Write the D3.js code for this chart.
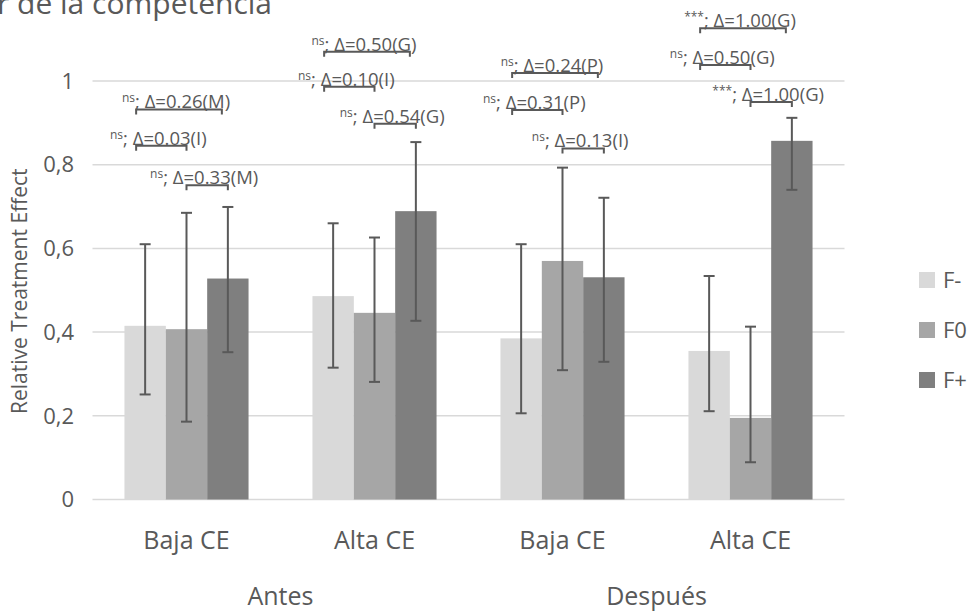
<!DOCTYPE html>
<html>
<head>
<meta charset="utf-8">
<script src="https://cdn.jsdelivr.net/npm/d3@7"></script>
<style>
  body { margin: 0; background: #fff; }
  svg { display: block; font-family: "Open Sans", sans-serif; }
</style>
</head>
<body>
<svg id="chart" width="972" height="616"></svg>
<script>
// categories and periods
var categories = ["Baja CE", "Alta CE", "Baja CE", "Alta CE"];
var periods = ["Antes", "Después"];
var series = ["F-", "F0", "F+"];
var colors = ["#d9d9d9", "#a6a6a6", "#7f7f7f"];

// relative treatment effect per series (one value per category)
var fMinus = [0.415, 0.486, 0.385, 0.355];
var fZero  = [0.407, 0.446, 0.570, 0.195];
var fPlus  = [0.528, 0.689, 0.531, 0.857];

// confidence interval limits
var fMinusLow  = [0.251, 0.315, 0.206, 0.211];
var fMinusHigh = [0.610, 0.660, 0.610, 0.534];
var fZeroLow   = [0.186, 0.281, 0.309, 0.089];
var fZeroHigh  = [0.685, 0.626, 0.793, 0.413];
var fPlusLow   = [0.352, 0.427, 0.329, 0.740];
var fPlusHigh  = [0.699, 0.854, 0.721, 0.912];

var yTicks = [0, 0.2, 0.4, 0.6, 0.8, 1];
var yTickLabels = ["0", "0,2", "0,4", "0,6", "0,8", "1"];

// comparison brackets: category, from series, to series, level, significance, label
var cmpCategory = [0, 0, 0, 1, 1, 1, 2, 2, 2, 3, 3, 3];
var cmpFrom     = [0, 0, 1, 0, 0, 1, 0, 0, 1, 0, 0, 1];
var cmpTo       = [2, 1, 2, 2, 1, 2, 2, 1, 2, 2, 1, 2];
var cmpLevel    = [0.932, 0.845, 0.751, 1.070, 0.986, 0.898, 1.019, 0.931, 0.839, 1.126, 1.038, 0.950];
var cmpSig      = ["ns", "ns", "ns", "ns", "ns", "ns", "ns", "ns", "ns", "***", "ns", "***"];
var cmpText     = ["; Δ=0.26(M)", "; Δ=0.03(I)", "; Δ=0.33(M)",
                   "; Δ=0.50(G)", "; Δ=0.10(I)", "; Δ=0.54(G)",
                   "; Δ=0.24(P)", "; Δ=0.31(P)", "; Δ=0.13(I)",
                   "; Δ=1.00(G)", "; Δ=0.50(G)", "; Δ=1.00(G)"];

var values = [fMinus, fZero, fPlus];
var lows = [fMinusLow, fZeroLow, fPlusLow];
var highs = [fMinusHigh, fZeroHigh, fPlusHigh];

var textColor = "#595959";
var plot = {left: 92.5, right: 844.5, top: 81, bottom: 499.5};

var svg = d3.select("#chart");

var x0 = d3.scaleBand()
    .domain(d3.range(categories.length))
    .range([plot.left, plot.right])
    .paddingInner(0.34)
    .paddingOuter(0.17);
var x1 = d3.scaleBand()
    .domain(d3.range(series.length))
    .range([0, x0.bandwidth()]);
var y = d3.scaleLinear()
    .domain([0, 1])
    .range([plot.bottom, plot.top]);

function barCenter(c, s) { return x0(c) + x1(s) + x1.bandwidth() / 2; }

// title (cut at the top of the picture)
svg.append("text")
    .attr("x", -3)
    .attr("y", 14)
    .style("font-size", "30px")
    .style("fill", textColor)
    .text("r de la competencia");

// gridlines
svg.append("g").selectAll("line")
    .data(yTicks)
  .enter().append("line")
    .attr("x1", plot.left)
    .attr("x2", plot.right)
    .attr("y1", function(d) { return y(d); })
    .attr("y2", function(d) { return y(d); })
    .style("stroke", "#d9d9d9")
    .style("stroke-width", 1.5);

// y tick labels
svg.append("g").selectAll("text")
    .data(yTicks)
  .enter().append("text")
    .attr("x", 74)
    .attr("y", function(d) { return y(d); })
    .attr("dy", "0.35em")
    .attr("text-anchor", "end")
    .style("font-size", "22px")
    .style("fill", textColor)
    .text(function(d, i) { return yTickLabels[i]; });

// y axis title
svg.append("text")
    .attr("transform", "translate(27," + ((plot.top + plot.bottom) / 2 + 1) + ") rotate(-90)")
    .attr("text-anchor", "middle")
    .style("font-size", "21px")
    .style("fill", textColor)
    .text("Relative Treatment Effect");

// bars
var group = svg.append("g").selectAll("g")
    .data(categories)
  .enter().append("g")
    .attr("transform", function(d, i) { return "translate(" + x0(i) + ",0)"; });

group.selectAll("rect")
    .data(function(d, c) { return series.map(function(s, k) { return {c: c, s: k, v: values[k][c]}; }); })
  .enter().append("rect")
    .attr("x", function(d) { return x1(d.s); })
    .attr("y", function(d) { return y(d.v); })
    .attr("width", x1.bandwidth())
    .attr("height", function(d) { return y(0) - y(d.v); })
    .style("fill", function(d) { return colors[d.s]; });

// error bars
var errs = [];
categories.forEach(function(c, ci) {
  series.forEach(function(s, si) {
    errs.push({c: ci, s: si, lo: lows[si][ci], hi: highs[si][ci]});
  });
});
var err = svg.append("g").selectAll("g")
    .data(errs)
  .enter().append("g")
    .style("stroke", textColor)
    .style("stroke-width", 2);
err.append("line")
    .attr("x1", function(d) { return barCenter(d.c, d.s); })
    .attr("x2", function(d) { return barCenter(d.c, d.s); })
    .attr("y1", function(d) { return y(d.lo); })
    .attr("y2", function(d) { return y(d.hi); });
err.append("line")
    .attr("x1", function(d) { return barCenter(d.c, d.s) - 5.5; })
    .attr("x2", function(d) { return barCenter(d.c, d.s) + 5.5; })
    .attr("y1", function(d) { return y(d.lo); })
    .attr("y2", function(d) { return y(d.lo); });
err.append("line")
    .attr("x1", function(d) { return barCenter(d.c, d.s) - 5.5; })
    .attr("x2", function(d) { return barCenter(d.c, d.s) + 5.5; })
    .attr("y1", function(d) { return y(d.hi); })
    .attr("y2", function(d) { return y(d.hi); });

// comparison brackets
var cmp = cmpCategory.map(function(c, i) {
  var xa = barCenter(c, cmpFrom[i]) - (cmpFrom[i] === 0 ? 9 : 0);
  var xb = barCenter(c, cmpTo[i]) - (cmpFrom[i] === 0 && cmpTo[i] === 2 ? 6 : 0);
  return {xa: xa, xb: xb, y: y(cmpLevel[i]), sig: cmpSig[i], text: cmpText[i]};
});
var br = svg.append("g").selectAll("g")
    .data(cmp)
  .enter().append("g");
br.append("path")
    .attr("d", function(d) {
      return "M" + d.xa + "," + (d.y + 5) + "V" + d.y + "H" + d.xb + "V" + (d.y + 5);
    })
    .style("fill", "none")
    .style("stroke", textColor)
    .style("stroke-width", 2);
var lbl = br.append("text")
    .attr("x", function(d) { return (d.xa + d.xb) / 2 - 3; })
    .attr("y", function(d) { return d.y - 1; })
    .attr("text-anchor", "middle")
    .style("fill", textColor);
lbl.append("tspan")
    .attr("dy", -6)
    .style("font-size", "12px")
    .text(function(d) { return d.sig; });
lbl.append("tspan")
    .attr("dy", 6)
    .style("font-size", "18.5px")
    .text(function(d) { return d.text; });

// category labels
svg.append("g").selectAll("text")
    .data(categories)
  .enter().append("text")
    .attr("x", function(d, i) { return x0(i) + x0.bandwidth() / 2; })
    .attr("y", 549)
    .attr("text-anchor", "middle")
    .style("font-size", "25px")
    .style("fill", textColor)
    .text(function(d) { return d; });

// period labels
svg.append("g").selectAll("text")
    .data(periods)
  .enter().append("text")
    .attr("x", function(d, i) {
      return (x0(i * 2) + x0(i * 2 + 1) + x0.bandwidth()) / 2;
    })
    .attr("y", 605)
    .attr("text-anchor", "middle")
    .style("font-size", "25px")
    .style("fill", textColor)
    .text(function(d) { return d; });

// legend
var legend = svg.append("g").selectAll("g")
    .data(series)
  .enter().append("g")
    .attr("transform", function(d, i) { return "translate(919," + (272 + i * 50) + ")"; });
legend.append("rect")
    .attr("width", 16)
    .attr("height", 16)
    .style("fill", function(d, i) { return colors[i]; });
legend.append("text")
    .attr("x", 24)
    .attr("y", 8)
    .attr("dy", "0.36em")
    .style("font-size", "22px")
    .style("fill", textColor)
    .text(function(d) { return d; });
</script>
</body>
</html>
